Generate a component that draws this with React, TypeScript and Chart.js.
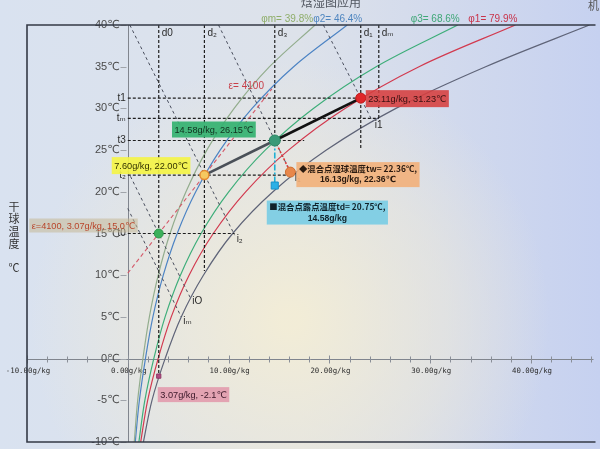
import React, { useEffect, useRef } from 'react';
import Chart from 'chart.js/auto';

// ---------- data ----------
const tempsC = [-10, -5, 0, 5, 10, 15, 20, 25, 30, 35, 40];
const dPhiM = [0.64, 0.98, 1.5, 2.14, 3.02, 4.19, 5.77, 7.84, 10.55, 14.06, 18.58];
const dPhi2 = [0.74, 1.15, 1.75, 2.49, 3.52, 4.9, 6.74, 9.16, 12.33, 16.45, 21.77];
const dPhi3 = [1.1, 1.69, 2.58, 3.7, 5.22, 7.27, 10.01, 13.63, 18.41, 24.64, 32.73];
const dPhi1 = [1.28, 1.97, 3.01, 4.31, 6.08, 8.48, 11.69, 15.94, 21.55, 28.89, 38.45];
const dSat = [1.55, 2.4, 3.7, 5.3, 7.5, 10.4, 14.4, 19.7, 26.6, 35.5, 45.8];
const curveLabels = ['φm= 39.8%', 'φ2= 46.4%', 'φ3= 68.6%', 'φ1= 79.9%', '机'];

const stateD = [23.11, 14.58, 7.6, 3.07, 3.07, 16.13, 14.58];
const stateT = [31.23, 26.15, 22.0, 15.0, -2.1, 22.36, 20.75];
const stateText = [
  ['23.11g/kg, 31.23℃'],
  ['14.58g/kg, 26.15℃'],
  ['7.60g/kg, 22.00℃'],
  ['ε=4100, 3.07g/kg, 15.0℃'],
  ['3.07g/kg, -2.1℃'],
  ['◆混合点湿球温度tw= 22.36℃,', '16.13g/kg, 22.36℃'],
  ['■混合点露点温度td= 20.75℃,', '14.58g/kg'],
];

const processD = [7.6, 14.58, 23.11];
const processT = [22.0, 26.15, 31.23];

const hName = ['t1', 'tₘ', 't3', 't₂', 't0'];
const hT = [31.23, 28.8, 26.15, 22.0, 15.0];
const hEndD = [23.11, 24.9, 17.5, 16.13, 10.6];

const vName = ['d0', 'd₂', 'd₃', 'd₁', 'dₘ'];
const vD = [3.07, 7.6, 14.58, 23.11, 24.9];
const vEndT = [-2.1, 10.5, 26.15, 25.0, 28.8];

const enthName = ['i1', '', 'i₂', 'iO', 'iₘ'];
const enthD0 = [19.4, 9.0, 0.2, 0, 0];
const enthT0 = [40, 40, 40, 22.5, 18.0];
const enthD1 = [24.3, 16.13, 10.6, 6.2, 5.3];
const enthT1 = [28.4, 22.36, 14.8, 7.3, 5.0];

const epsD = [0, 14.3];
const epsT = [10.25, 32.35];
const epsText = 'ε= 4100';

const xMajor = [-10, 0, 10, 20, 30, 40];
const xMinor = [-8, -6, -4, -2, 2, 4, 6, 8, 12, 14, 16, 18, 22, 24, 26, 28, 32, 34, 36, 38, 42, 44, 46];
const yTicks = [-10, -5, 0, 5, 10, 15, 20, 25, 30, 35, 40];
const title = '焓湿图应用';
const yTitle = ['干', '球', '温', '度', '', '℃'];

// ---------- styles ----------
const curveColors = ['#93ad8e', '#4d84c4', '#3fae7a', '#d23a4f', '#5f6478'];
const curveLabelColors = ['#8fae6a', '#4f86c0', '#3fa777', '#c8334a', '#555'];
const boxFill = [
  'rgba(214,62,62,0.88)',
  'rgba(52,178,112,0.92)',
  'rgba(244,244,70,0.92)',
  'rgba(196,184,150,0.55)',
  'rgba(226,150,170,0.85)',
  'rgba(242,176,122,0.9)',
  'rgba(120,204,228,0.9)',
];
const boxText = ['#3a1010', '#10301e', '#333300', '#b8442a', '#3a1828', '#2a1a10', '#10222a'];
const SANS = '"Liberation Sans", "DejaVu Sans", "Noto Sans CJK SC", sans-serif';
const CJK = '"Noto Sans CJK SC", "DejaVu Sans", sans-serif';

export default function App() {
  const canvasRef = useRef<HTMLCanvasElement | null>(null);

  useEffect(() => {
    const canvas = canvasRef.current;
    if (!canvas) return;

    const P = (xs: number[], ys: number[]) => xs.map((x, i) => ({ x, y: ys[i] }));
    const seg = (data: any[], color: string, width: number, dash: number[] = []) => ({
      data,
      showLine: true,
      borderColor: color,
      backgroundColor: color,
      borderWidth: width,
      borderDash: dash,
      pointRadius: 0,
      pointHoverRadius: 0,
      fill: false,
      tension: 0,
    });
    const curve = (ds: number[], color: string) => ({ ...seg(P(ds, tempsC), color, 1.2), tension: 0.35 });

    const datasets: any[] = [];
    datasets.push({
      data: P(stateD, stateT),
      showLine: false,
      pointStyle: ['circle', 'circle', 'circle', 'circle', 'rect', 'circle', 'rect'],
      pointRadius: [5, 5.5, 4.5, 4.5, 3, 5, 5],
      pointBackgroundColor: ['#e0262a', '#3a9a78', '#f5c860', '#3cb05a', '#b04a80', '#e8874a', '#2ab0e6'],
      pointBorderColor: ['#c01818', '#2e8866', '#e58a30', '#2f9a4c', '#903a6a', '#d07030', '#1890c8'],
      pointBorderWidth: [1, 1, 1.5, 1, 1, 1, 1],
    });
    datasets.push(seg(P([stateD[1], stateD[5]], [stateT[1], stateT[5]]), '#e03a3a', 1.6, [2, 2]));
    datasets.push(seg(P([stateD[1], stateD[6]], [stateT[1], stateT[6]]), '#1fb0d4', 1.6, [6, 2, 2, 2]));
    datasets.push(seg(P(processD.slice(1), processT.slice(1)), '#111111', 2.6));
    datasets.push(seg(P(processD.slice(0, 2), processT.slice(0, 2)), '#4a5058', 2.6));
    datasets.push(seg(P(epsD, epsT), '#d45a6a', 1.1, [4, 3]));
    hT.forEach((t, i) => datasets.push(seg(P([0, hEndD[i]], [t, t]), '#1e1e1e', 1.2, [3, 2])));
    vD.forEach((d, i) => datasets.push(seg(P([d, d], [40, vEndT[i]]), '#1e1e1e', 1.2, [3, 2])));
    enthD0.forEach((d, i) =>
      datasets.push(seg(P([d, enthD1[i]], [enthT0[i], enthT1[i]]), '#4a4f5e', 1, [3, 3]))
    );
    [dPhiM, dPhi2, dPhi3, dPhi1, dSat].forEach((ds, i) => datasets.push(curve(ds, curveColors[i])));

    const plugin = {
      id: 'psychro',
      beforeDraw(chart: any) {
        const { ctx, width, height } = chart;
        ctx.save();
        const lg = ctx.createLinearGradient(0, 0, width, 0);
        lg.addColorStop(0, '#d9e2f0');
        lg.addColorStop(0.5, '#dde2ea');
        lg.addColorStop(1, '#c6d1f0');
        ctx.fillStyle = lg;
        ctx.fillRect(0, 0, width, height);
        const rg = ctx.createRadialGradient(290, 320, 10, 290, 320, 260);
        rg.addColorStop(0, 'rgba(243,237,214,0.95)');
        rg.addColorStop(0.6, 'rgba(238,233,216,0.5)');
        rg.addColorStop(1, 'rgba(238,233,216,0)');
        ctx.fillStyle = rg;
        ctx.fillRect(0, 0, width, height);
        ctx.restore();
      },
      beforeDatasetsDraw(chart: any) {
        const { ctx, chartArea: a } = chart;
        const X = (v: number) => chart.scales.x.getPixelForValue(v);
        const Y = (v: number) => chart.scales.y.getPixelForValue(v);
        const x0 = Math.round(X(0)) + 0.5;
        const y0 = Math.round(Y(0)) + 0.5;
        ctx.save();
        ctx.strokeStyle = '#80858e';
        ctx.lineWidth = 1;
        ctx.beginPath();
        ctx.moveTo(a.left, y0);
        ctx.lineTo(a.right, y0);
        ctx.moveTo(x0, a.top);
        ctx.lineTo(x0, a.bottom);
        ctx.stroke();
        ctx.strokeStyle = '#8a8f98';
        ctx.beginPath();
        xMinor.forEach((v) => {
          const px = Math.round(X(v)) + 0.5;
          ctx.moveTo(px, y0 - 3);
          ctx.lineTo(px, y0 + 3);
        });
        xMajor.forEach((v) => {
          const px = Math.round(X(v)) + 0.5;
          ctx.moveTo(px, y0 - 4);
          ctx.lineTo(px, y0 + 4);
        });
        ctx.stroke();
        ctx.strokeStyle = '#a0a4aa';
        ctx.beginPath();
        yTicks.forEach((v) => {
          const py = Math.round(Y(v)) + 0.5;
          ctx.moveTo(x0 - 8, py);
          ctx.lineTo(x0 - 2, py);
        });
        ctx.stroke();
        ctx.fillStyle = '#2e2e2e';
        ctx.font = '7.4px "DejaVu Sans Mono", monospace';
        ctx.textAlign = 'center';
        ctx.textBaseline = 'top';
        xMajor.forEach((v) => ctx.fillText(v.toFixed(2) + 'g/kg', X(v) + 1, y0 + 8));
        ctx.fillStyle = '#4a4a4a';
        ctx.font = '11px ' + SANS;
        ctx.textAlign = 'right';
        ctx.textBaseline = 'middle';
        yTicks.forEach((v) => ctx.fillText(v + '℃', x0 - 9, Y(v)));
        ctx.restore();
      },
      afterDatasetsDraw(chart: any) {
        const { ctx, chartArea: a } = chart;
        const X = (v: number) => chart.scales.x.getPixelForValue(v);
        const Y = (v: number) => chart.scales.y.getPixelForValue(v);
        const x0 = X(0);
        ctx.save();
        ctx.fillStyle = '#2a2a2a';
        ctx.font = '10px ' + SANS;
        ctx.textAlign = 'right';
        ctx.textBaseline = 'middle';
        hT.forEach((t, i) => ctx.fillText(hName[i], x0 - 2, Y(t)));
        ctx.textAlign = 'left';
        ctx.textBaseline = 'top';
        vD.forEach((d, i) => ctx.fillText(vName[i], X(d) + 3, a.top + 3));
        enthD1.forEach((d, i) => {
          if (enthName[i]) ctx.fillText(enthName[i], X(d) + 2, Y(enthT1[i]) - 1);
        });
        ctx.fillText('I₁', X(stateD[5]) + 4, Y(stateT[5]) + 1);
        ctx.fillStyle = '#c8404a';
        ctx.textAlign = 'right';
        ctx.textBaseline = 'middle';
        ctx.fillText(epsText, X(epsD[1]) - 8, Y(epsT[1]) - 3);
        const layout = [
          { dx: 5, dy: -8, right: false, h: 17 },
          { dx: -19, dy: -19, right: true, h: 16 },
          { dx: -14, dy: -18, right: true, h: 17 },
          { dx: -21, dy: -15, right: true, h: 14 },
          { dx: -1, dy: 11, right: false, h: 15 },
          { dx: 6, dy: -10, right: false, h: 25 },
          { dx: -8, dy: 15, right: false, h: 24 },
        ];
        stateText.forEach((lines, i) => {
          const L = layout[i];
          const px = X(stateD[i]);
          const py = Y(stateT[i]);
          const fonts = lines.length > 1 ? ['bold 8.4px ' + CJK, 'bold 8.6px ' + SANS] : ['9.2px ' + SANS];
          let w = 0;
          lines.forEach((s, k) => {
            ctx.font = fonts[k];
            w = Math.max(w, ctx.measureText(s).width);
          });
          w += 5;
          const left = L.right ? px + L.dx - w : px + L.dx;
          const top = py + L.dy;
          ctx.fillStyle = boxFill[i];
          ctx.fillRect(left, top, w, L.h);
          ctx.fillStyle = boxText[i];
          ctx.textBaseline = 'middle';
          if (lines.length === 1) {
            ctx.font = fonts[0];
            ctx.textAlign = 'left';
            ctx.fillText(lines[0], left + 2.5, top + L.h / 2 + 0.5);
          } else {
            ctx.textAlign = 'center';
            lines.forEach((s, k) => {
              ctx.font = fonts[k];
              ctx.fillText(s, left + w / 2, top + 6.5 + k * 11.5);
            });
          }
        });
        ctx.restore();
      },
      afterDraw(chart: any) {
        const { ctx, chartArea: a } = chart;
        const X = (v: number) => chart.scales.x.getPixelForValue(v);
        ctx.save();
        ctx.strokeStyle = '#343a46';
        ctx.lineWidth = 1.6;
        ctx.beginPath();
        ctx.moveTo(a.right + 2, a.top);
        ctx.lineTo(a.left, a.top);
        ctx.lineTo(a.left, a.bottom);
        ctx.lineTo(a.right + 2, a.bottom);
        ctx.stroke();
        ctx.fillStyle = '#50555f';
        ctx.font = '12px ' + CJK;
        ctx.textAlign = 'center';
        ctx.textBaseline = 'alphabetic';
        ctx.fillText(title, 331, 7);
        const tops = [dPhiM, dPhi2, dPhi3, dPhi1, dSat].map((ds) => X(ds[ds.length - 1]));
        const offs = [-2, 15, 2, 2, 0];
        ctx.font = '10px ' + SANS;
        ctx.textAlign = 'right';
        ctx.textBaseline = 'alphabetic';
        curveLabels.forEach((s, i) => {
          ctx.fillStyle = curveLabelColors[i];
          if (i < 4) ctx.fillText(s, tops[i] + offs[i], a.top - 3);
        });
        ctx.fillStyle = curveLabelColors[4];
        ctx.font = '11px ' + CJK;
        ctx.textAlign = 'left';
        ctx.fillText(curveLabels[4], 588, 10);
        ctx.fillStyle = '#333';
        ctx.font = '11px ' + CJK;
        ctx.textAlign = 'center';
        ctx.textBaseline = 'middle';
        yTitle.forEach((c, i) => {
          if (c) ctx.fillText(c, 14, 207 + i * 12.2);
        });
        ctx.restore();
      },
    };

    const chart = new Chart(canvas, {
      type: 'scatter',
      data: { datasets },
      options: {
        responsive: false,
        maintainAspectRatio: false,
        animation: false,
        events: [],
        layout: { padding: { left: 27, top: 25, right: 0, bottom: 7 } },
        plugins: { legend: { display: false }, tooltip: { enabled: false }, title: { display: false } },
        scales: {
          x: { type: 'linear', display: false, min: -10, max: 46.2 },
          y: { type: 'linear', display: false, min: -10, max: 40 },
        },
      },
      plugins: [plugin],
    } as any);

    return () => chart.destroy();
  }, []);

  return (
    <div style={{ position: 'fixed', left: 0, top: 0, width: 600, height: 449 }}>
      <canvas ref={canvasRef} width={600} height={449} style={{ display: 'block', width: 600, height: 449 }} />
    </div>
  );
}
